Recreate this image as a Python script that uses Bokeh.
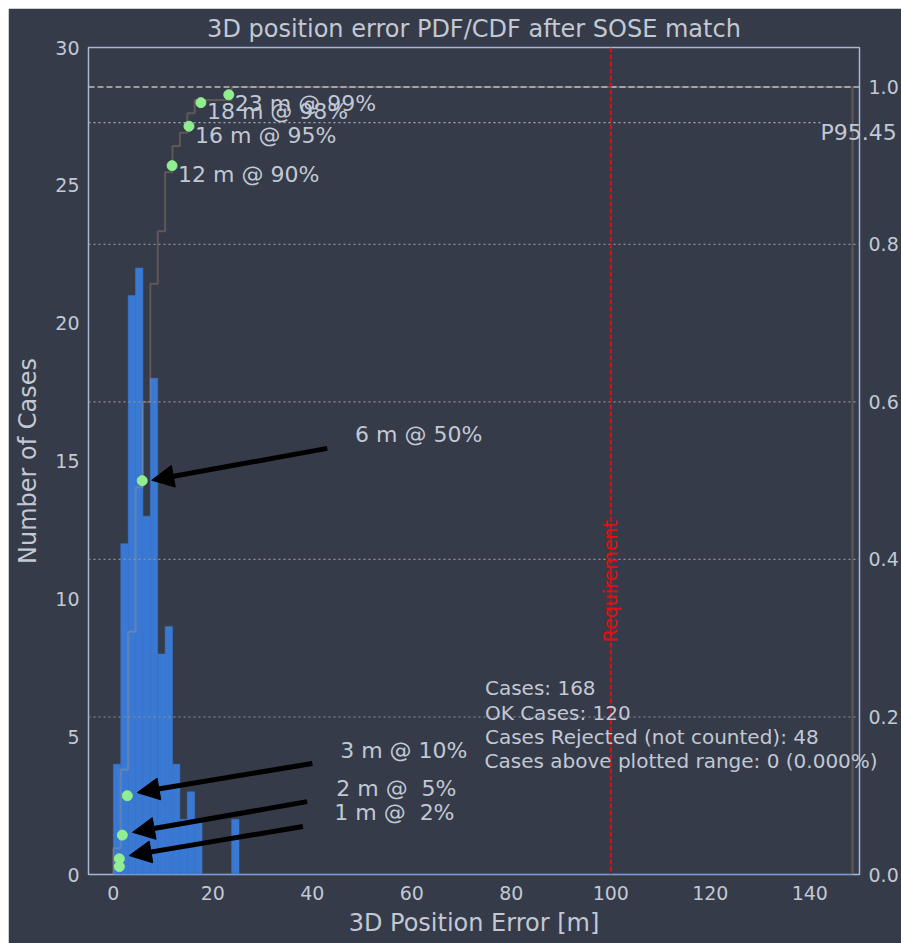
import numpy as np
from bokeh.plotting import figure
from bokeh.layouts import column, row
from bokeh.models import (Range1d, LinearAxis, FixedTicker, PrintfTickFormatter,
                          Label, Arrow, NormalHead, Span, Spacer)
from bokeh.embed import file_html
from bokeh.resources import INLINE

# ---------------- data ----------------
# histogram: counts of the first 17 of 100 equal bins (remaining bins are empty)
bin_counts = [4, 12, 21, 22, 13, 18, 8, 9, 4, 2, 3, 2, 0, 0, 0, 0, 2]
n_bins = 100
bin_lo, bin_hi = 0.0, 148.6

# percentile markers (error in m, CDF level)
pct_values_m = [1.2, 1.2, 1.8, 2.8, 5.8, 11.8, 15.2, 17.6, 23.2]
pct_levels = [0.01, 0.02, 0.05, 0.10, 0.50, 0.90, 0.95, 0.98, 0.99]

# labels near the top (no arrows)
top_label_text = ["12 m @ 90%", "16 m @ 95%", "18 m @ 98%", "23 m @ 99%"]
top_label_idx = [5, 6, 7, 8]

# labels with arrows (percent padded to two digits)
arrow_label_text = ["1 m @\u00a0 2%", "2 m @\u00a0 5%", "3 m @ 10%", "6 m @ 50%"]

cases_total = 168
cases_ok = 120
cases_rejected = 48
cases_above = 0

requirement_m = 100
p95_level = 0.9545

x_ticks = [0, 20, 40, 60, 80, 100, 120, 140]
y_ticks = [0, 5, 10, 15, 20, 25, 30]
cdf_ticks = [0.0, 0.2, 0.4, 0.6, 0.8, 1.0]
grid_levels = [0.2, 0.4, 0.6, 0.8]

# ---------------- layout / styles ----------------
X_MIN, X_MAX = -5, 150
arrow_text_pos = [(44.4, 0.079), (44.8, 0.109), (45.6, 0.157), (48.6, 0.559)]
arrow_tail = [(38.1, 0.061), (38.95, 0.0925), (40.0, 0.141), (43.0, 0.541)]
arrow_tip = [(3.2, 0.024), (3.84, 0.0536), (4.8, 0.104), (7.7, 0.5006)]
box_pos_x = 74.7
box_pos_y = [0.237, 0.2053, 0.1749, 0.1445]
p95_label_y = 0.9417          # label sits just under its dotted line

BG = "#353b48"
TXT = "#c2c8d4"
FONT = "DejaVu Sans"
BAR = "#3a79d3"

edges = np.linspace(bin_lo, bin_hi, n_bins + 1)
counts = np.zeros(n_bins)
counts[:len(bin_counts)] = bin_counts
cdf = np.cumsum(counts) / counts.sum()

step_x = [edges[0]]
step_y = [0.0]
for i in range(n_bins):
    step_x += [edges[i], edges[i + 1]]
    step_y += [cdf[i], cdf[i]]
step_x += [edges[-1]]
step_y += [0.0]

p = figure(width=893, height=935, output_backend="svg", toolbar_location=None,
           x_range=Range1d(X_MIN, X_MAX), y_range=Range1d(0, 30),
           min_border_left=80, min_border_right=42, min_border_top=39, min_border_bottom=69,
           background_fill_color=BG, border_fill_color=BG)
p.extra_y_ranges = {"cdf": Range1d(0, 1.05)}
p.xgrid.visible = False
p.ygrid.visible = False
p.outline_line_color = "#a9b7d6"
p.outline_line_width = 1.5

p.title.text = "3D position error PDF/CDF after SOSE match"
p.title.align = "center"
p.title.text_font = FONT
p.title.text_font_size = "24px"
p.title.text_font_style = "normal"
p.title.text_color = TXT
p.title.standoff = 9

# histogram bars
p.quad(left=edges[:-1], right=edges[1:], bottom=0, top=counts,
       fill_color=BAR, line_color=BAR, line_width=0.5)

# CDF step outline (faint, semi-transparent)
p.line(step_x, step_y, y_range_name="cdf", line_color="#c8a47c", line_alpha=0.28, line_width=2)

# grid-like dotted lines on CDF axis
for g in grid_levels:
    p.add_layout(Span(location=g, dimension="width", y_range_name="cdf",
                      line_color="#8d929b", line_dash="2 3", line_width=1.2))
# 1.0 dashed line
p.add_layout(Span(location=1.0, dimension="width", y_range_name="cdf",
                  line_color="#c4bfb4", line_dash="6 3", line_width=1.5))
# P95.45 dotted line (to 95% of axis width)
p95_end = X_MIN + 0.95 * (X_MAX - X_MIN)
p.line([X_MIN, p95_end], [p95_level, p95_level], y_range_name="cdf",
       line_color="#a8acb4", line_dash="2 3", line_width=1.2)

# requirement line
p.add_layout(Span(location=requirement_m, dimension="height",
                  line_color="#d81418", line_dash="5 2", line_width=2))
p.add_layout(Label(x=requirement_m, y=0.3726, y_range_name="cdf", text="Requirement",
                   angle=np.pi / 2, text_align="center", text_baseline="alphabetic",
                   x_offset=-1, text_font=FONT, text_font_size="19px", text_color="#e01010"))

# arrows + labels
for t, (tx, ty), (ax0, ay0), (ax1, ay1) in zip(arrow_label_text, arrow_text_pos, arrow_tail, arrow_tip):
    p.add_layout(Arrow(x_start=ax0, y_start=ay0, x_end=ax1, y_end=ay1, y_range_name="cdf",
                       line_color="black", line_width=5,
                       end=NormalHead(size=22, fill_color="black", line_color="black")))
    p.add_layout(Label(x=tx, y=ty, y_range_name="cdf", text=t, text_baseline="middle",
                       text_font=FONT, text_font_size="22px", text_color=TXT))

# percentile dots
p.scatter(pct_values_m, pct_levels, y_range_name="cdf", size=10,
          fill_color="#90ee90", line_color="#90ee90")

for t, i in zip(top_label_text, top_label_idx):
    p.add_layout(Label(x=pct_values_m[i], y=pct_levels[i], y_range_name="cdf", text=t,
                       x_offset=6, y_offset=-9, text_baseline="middle",
                       text_font=FONT, text_font_size="22px", text_color=TXT))

# stats box (first three lines inside the frame)
box_lines = [f"Cases: {cases_total}", f"OK Cases: {cases_ok}",
             f"Cases Rejected (not counted): {cases_rejected}",
             f"Cases above plotted range: {cases_above} ({100.0 * cases_above / cases_total:.3f}%)"]
for t, yy in zip(box_lines[:3], box_pos_y[:3]):
    p.add_layout(Label(x=box_pos_x, y=yy, y_range_name="cdf", text=t, text_baseline="middle",
                       text_font=FONT, text_font_size="20px", text_color=TXT))

# axes
right_axis = LinearAxis(y_range_name="cdf", ticker=FixedTicker(ticks=cdf_ticks),
                        formatter=PrintfTickFormatter(format="%.1f"))
p.add_layout(right_axis, "right")

# texts that run across the right frame edge: drawn as right-side axis labels
p95_axis = LinearAxis(y_range_name="cdf", ticker=FixedTicker(ticks=[p95_label_y]),
                      major_label_overrides={p95_label_y: "P95.45"},
                      major_label_standoff=-81)
p.add_layout(p95_axis, "right")
stats_axis = LinearAxis(y_range_name="cdf", ticker=FixedTicker(ticks=[box_pos_y[3]]),
                        major_label_overrides={box_pos_y[3]: box_lines[3]},
                        major_label_standoff=-417)
p.add_layout(stats_axis, "right")

p.xaxis.ticker = FixedTicker(ticks=x_ticks)
p.yaxis[0].ticker = FixedTicker(ticks=y_ticks)
p.xaxis.axis_label = "3D Position Error [m]"
p.yaxis[0].axis_label = "Number of Cases"

for ax in p.axis:
    ax.axis_line_color = None
    ax.major_tick_line_color = None
    ax.minor_tick_line_color = None
    ax.major_tick_out = 0
    ax.major_tick_in = 0
    ax.minor_tick_out = 0
    ax.minor_tick_in = 0
    ax.major_label_text_font = FONT
    ax.major_label_text_font_size = "19px"
    ax.major_label_text_color = TXT
    ax.axis_label_text_font = FONT
    ax.axis_label_text_font_size = "24px"
    ax.axis_label_text_font_style = "normal"
    ax.axis_label_text_color = TXT
for ax in [p.xaxis[0], p.yaxis[0], right_axis]:
    ax.major_label_standoff = 9
p.xaxis.major_label_standoff = 11
p95_axis.major_label_text_font_size = "22px"
stats_axis.major_label_text_font_size = "20px"
p.xaxis.axis_label_standoff = 6
p.yaxis[0].axis_label_standoff = 10

page = column(Spacer(height=8), row(Spacer(width=8), p))
open("out.html", "w").write(file_html(page, INLINE))
